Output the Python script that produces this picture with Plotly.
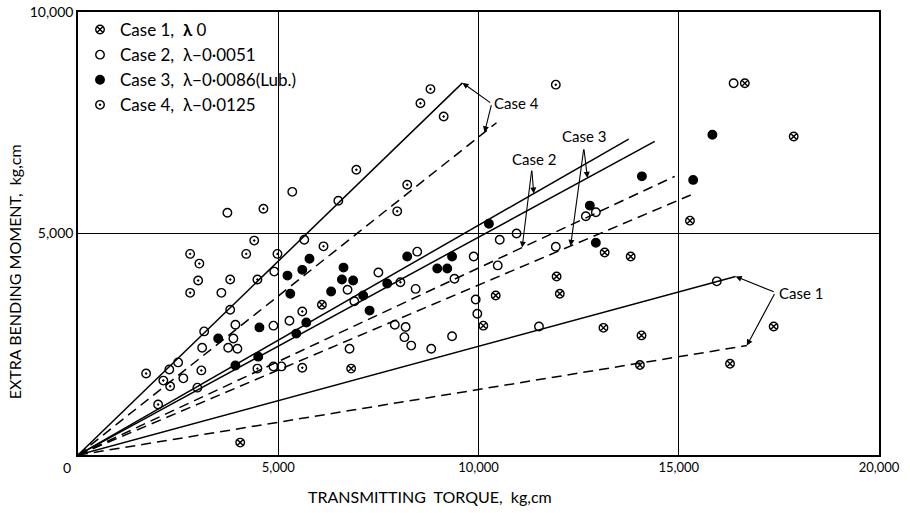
import plotly.graph_objects as go

# ---- data ----
case1_x = [4050, 6090, 6820, 10120, 10430, 11950, 12030, 13150, 13800, 15280, 16650, 17870,
           13120, 14070, 14030, 17370, 16280]
case1_y = [280, 3390, 1950, 2920, 3600, 4030, 3640, 4570, 4480, 5290, 8390, 7190,
           2870, 2700, 2030, 2900, 2060]

case2_x = [3730, 3580, 3800, 5350, 4900, 5650, 5280, 2280, 2500, 2630, 2980, 3150, 3100,
           3930, 3880, 3750, 3980, 4880, 4880, 5080, 6500, 7500, 6730, 8470, 9400, 8430,
           6900, 10530, 10950, 9880, 10480, 9930, 9970, 11930, 12680, 12930, 16370, 15950,
           6780, 7910, 8180, 8150, 8320, 8820, 9340, 11510]
case2_y = [5470, 3660, 3280, 5940, 4140, 4860, 3030, 1930, 2090, 1730, 1520, 2790, 2420,
           2940, 2630, 2420, 2400, 2920, 2000, 2000, 5740, 4120, 3730, 4590, 3980, 3750,
           3470, 4860, 5000, 4480, 4280, 3510, 3190, 4700, 5390, 5480, 8390, 3920,
           2400, 2940, 2890, 2660, 2470, 2400, 2680, 2900]

case3_x = [3500, 4530, 5700, 5450, 4500, 3930, 5230, 5600, 5780, 5300, 6630, 6590, 6870,
           6320, 7720, 8220, 8970, 9220, 9340, 7120, 7280, 10260, 12780, 12930, 14080,
           15360, 15840]
case3_y = [2630, 2880, 2990, 2740, 2220, 2020, 4050, 4180, 4430, 3640, 4230, 3960, 3940,
           3690, 3870, 4480, 4210, 4210, 4480, 3600, 3260, 5220, 5630, 4790, 6290,
           6210, 7230]

case4_x = [2800, 3030, 3000, 2800, 3800, 4200, 4400, 4630, 4480, 4980, 5600, 1700, 2130,
           2300, 3080, 2000, 4480, 5600, 6950, 8220, 7970, 6130, 8050, 8800, 8550, 9130,
           11930]
case4_y = [4540, 4320, 3940, 3660, 3960, 4540, 4840, 5560, 3960, 4540, 3240, 1840, 1680,
           1550, 1910, 1140, 1950, 1970, 6440, 6100, 5500, 4710, 3900, 8260, 7940, 7640,
           8360]

# fitted lines (end points, all start at origin)
line_names = ["c4s", "c4d", "c2s", "c2d", "c3s", "c3d", "c1s", "c1d"]
line_end_x = [9600, 10450, 13750, 14900, 14400, 15300, 16420, 16700]
line_end_y = [8400, 7500, 7130, 6290, 7080, 5870, 4030, 2470]
line_dash = ["solid", "10px,6px", "solid", "10px,6px", "solid", "10px,6px", "solid", "10px,6px"]

legend_names = ["Case 1,  <b>λ</b> 0", "Case 2,  λ−0·0051",
                "Case 3,  λ−0·0086(Lub.)", "Case 4,  λ−0·0125"]
symbols = ["circle-x-open", "circle-open", "circle", "circle-open-dot"]

x_ticks = [5000, 10000, 15000, 20000]
x_ticktext = ["5,000", "10,000", "15,000", "20,000"]
y_ticks = [5000, 10000]
y_ticktext = ["5,000", "10,000"]

FONT = "Lato, 'DejaVu Sans', sans-serif"

fig = go.Figure()

for i in range(len(line_names)):
    fig.add_trace(go.Scatter(x=[0, line_end_x[i]], y=[0, line_end_y[i]], mode="lines",
                             line=dict(color="black", width=1.5, dash=line_dash[i]),
                             showlegend=False, hoverinfo="skip"))

for xs, ys, name, sym in zip([case1_x, case2_x, case3_x, case4_x],
                             [case1_y, case2_y, case3_y, case4_y],
                             legend_names, symbols):
    fig.add_trace(go.Scatter(x=xs, y=ys, mode="markers", name=name,
                             marker=dict(symbol=sym, size=8.5, color="black",
                                         line=dict(width=1.4, color="black"))))

def on_line(i, x):
    return x, line_end_y[i] / line_end_x[i] * x

def arrow(tail, head):
    fig.add_annotation(x=head[0], y=head[1], ax=tail[0], ay=tail[1],
                       xref="x", yref="y", axref="x", ayref="y", text="",
                       showarrow=True, arrowhead=2, arrowsize=1.1, arrowwidth=1.1,
                       arrowcolor="black")

# Case 4 arrows
t4 = (10330, 7930)
arrow(t4, (line_end_x[0], line_end_y[0]))
arrow(t4, on_line(1, 10150))
# Case 2 arrows
t2 = (11330, 6450)
arrow(t2, on_line(2, 11380))
arrow(t2, on_line(3, 11090))
# Case 3 arrows
t3 = (12630, 6930)
arrow(t3, on_line(4, 12720))
arrow(t3, on_line(5, 12300))
# Case 1 arrows
t1 = (17410, 3670)
arrow(t1, (line_end_x[6], line_end_y[6]))
arrow(t1, (line_end_x[7], line_end_y[7]))

lab_font = dict(family=FONT, size=15, color="black")
fig.add_annotation(x=10340, y=7950, text="Case 4", showarrow=False, xanchor="left",
                   yanchor="middle", font=lab_font)
fig.add_annotation(x=11390, y=6680, text="Case 2", showarrow=False, font=lab_font)
fig.add_annotation(x=12630, y=7205, text="Case 3", showarrow=False, font=lab_font)
fig.add_annotation(x=17460, y=3660, text="Case 1", showarrow=False, xanchor="left",
                   yanchor="middle", font=lab_font)

# corner zero and axis titles
fig.add_annotation(xref="paper", yref="paper", x=-0.006, y=-0.005, text="0",
                   showarrow=False, xanchor="right", yanchor="top",
                   font=dict(family=FONT, size=14, color="black"))
fig.add_annotation(xref="paper", yref="paper", x=0.439, y=-0.094,
                   text="TRANSMITTING  TORQUE,  kg,cm", showarrow=False,
                   yanchor="middle", font=dict(family=FONT, size=16, color="black"))
fig.add_annotation(xref="paper", yref="paper", x=-0.079, y=0.414,
                   text="EXTRA BENDING MOMENT,  kg,cm", showarrow=False, textangle=-90,
                   xanchor="center", yanchor="middle",
                   font=dict(family=FONT, size=16, color="black"))

fig.update_xaxes(range=[0, 20000], tickvals=x_ticks, ticktext=x_ticktext,
                 showgrid=True, gridcolor="black", gridwidth=1, zeroline=False,
                 showline=True, linecolor="black", linewidth=1.5, mirror=True,
                 automargin=False,
                 ticks="", tickfont=dict(family=FONT, size=13, color="black"))
fig.update_yaxes(range=[0, 10000], tickvals=y_ticks, ticktext=y_ticktext,
                 showgrid=True, gridcolor="black", gridwidth=1.3, zeroline=False,
                 showline=True, linecolor="black", linewidth=1.5, mirror=True,
                 automargin=False,
                 ticks="", tickfont=dict(family=FONT, size=14, color="black"))

fig.update_layout(width=910, height=513, margin=dict(l=78, r=31, t=12, b=58),
                  paper_bgcolor="white", plot_bgcolor="white",
                  showlegend=True,
                  legend=dict(x=0.0025, y=1.0, xanchor="left", yanchor="top",
                              bgcolor="rgba(0,0,0,0)", borderwidth=0,
                              font=dict(family=FONT, size=17, color="black"),
                              itemwidth=30, tracegroupgap=0))

fig.write_html("out.html", config={"displayModeBar": False},
               post_script="document.body.style.margin='0px';"
                           "document.body.style.overflow='hidden';")
